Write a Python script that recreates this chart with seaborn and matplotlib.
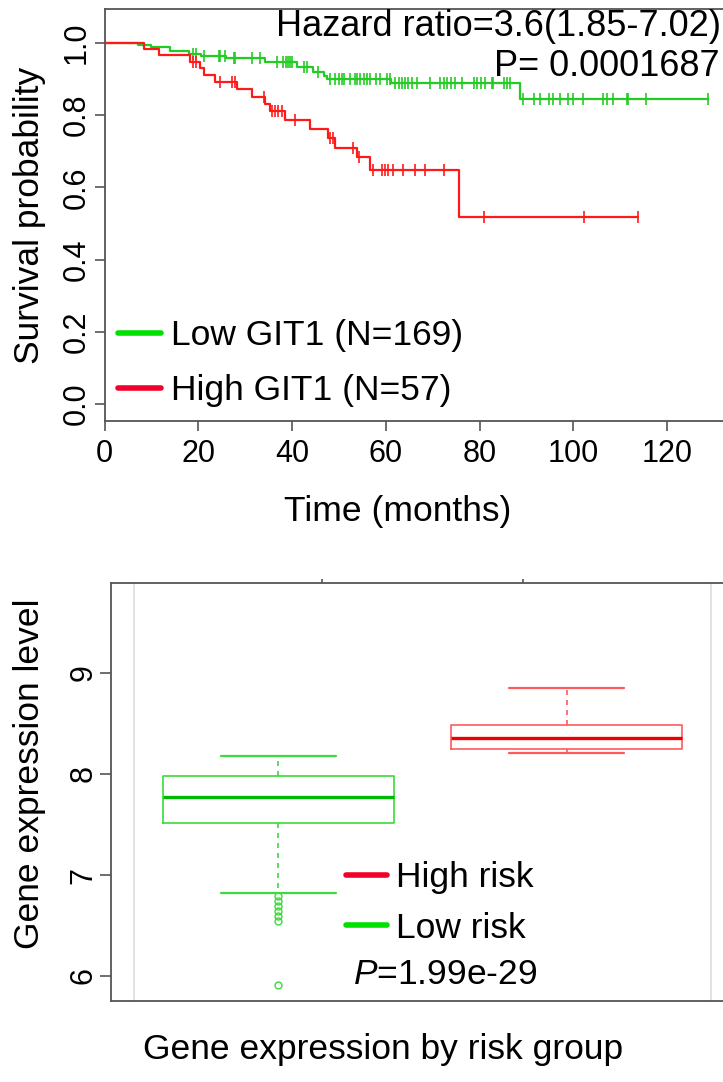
import numpy as np
import matplotlib
matplotlib.use("Agg")
import matplotlib.pyplot as plt
from matplotlib.lines import Line2D
import seaborn as sns

# ---------------- data ----------------
# Kaplan-Meier step functions (time in months, survival probability)
low_time = [0, 7.2, 10.0, 14.0, 17.9, 20.5, 26.0, 34.2, 41.0, 44.5, 46.7, 47.4, 61.0, 88.6, 128.8]
low_surv = [1.0, 0.994, 0.988, 0.979, 0.970, 0.964, 0.958, 0.946, 0.933, 0.921, 0.909, 0.899, 0.890, 0.844, 0.844]
low_censor = [18.9, 19.6, 21.1, 24.3, 24.6, 25.7, 27.5, 27.8, 31.4, 33.2, 36.7, 38.1, 38.8, 39.2,
              39.6, 39.9, 42.5, 43.2, 45.5, 48.1, 49.1, 49.9, 50.6, 51.1, 52.4, 53.4, 53.9, 54.5,
              55.3, 55.9, 56.6, 57.9, 58.7, 60.2, 60.9, 62.0, 62.7, 63.4, 64.1, 64.8, 65.5, 66.6,
              69.4, 71.5, 72.3, 73.0, 74.0, 74.8, 76.2, 78.7, 79.4, 80.4, 81.2, 82.6, 82.9, 85.1,
              85.8, 86.5, 89.3, 91.5, 92.9, 94.7, 95.7, 97.1, 98.9, 100.0, 102.1, 106.4, 107.1,
              108.5, 111.4, 111.7, 115.6, 128.8]

high_time = [0, 8.3, 11.5, 18.2, 20.4, 21.1, 23.5, 28.2, 31.4, 34.2, 35.3, 38.4, 43.8, 47.7, 49.2,
             53.8, 56.6, 75.5, 113.7]
high_surv = [1.0, 0.983, 0.966, 0.948, 0.930, 0.911, 0.893, 0.872, 0.851, 0.832, 0.812, 0.787,
             0.763, 0.738, 0.709, 0.685, 0.648, 0.518, 0.518]
high_censor = [18.8, 19.6, 24.6, 27.1, 27.8, 33.9, 35.8, 36.4, 37.0, 37.8, 40.6, 48.1, 48.8, 53.0,
               54.3, 57.3, 59.1, 59.8, 60.5, 61.6, 63.7, 66.2, 68.4, 72.3, 80.9, 102.3, 113.7]

km_labels = ["Low GIT1 (N=169)", "High GIT1 (N=57)"]
hazard_text = "Hazard ratio=3.6(1.85-7.02)"
p_text_km = "P= 0.0001687"
km_xticks = [0, 20, 40, 60, 80, 100, 120]
km_yticks = [0.0, 0.2, 0.4, 0.6, 0.8, 1.0]

# Box statistics per risk group
groups = ["Low risk", "High risk"]
box_q1 = [7.51, 8.245]
box_med = [7.775, 8.36]
box_q3 = [7.98, 8.485]
box_lo = [6.82, 8.205]
box_hi = [8.18, 8.85]
low_fliers = [6.79, 6.74, 6.69, 6.64, 6.59, 6.545, 5.91]
high_fliers = []
box_yticks = [6, 7, 8, 9]
p_text_box = "=1.99e-29"

# ---------------- style ----------------
sns.set_theme(style="white")
plt.rcParams["font.family"] = ["Liberation Sans", "DejaVu Sans"]
plt.rcParams["mathtext.fontset"] = "custom"
plt.rcParams["mathtext.it"] = "Liberation Sans:italic"
plt.rcParams["mathtext.rm"] = "Liberation Sans"
plt.rcParams["text.color"] = "black"
plt.rcParams["axes.labelcolor"] = "black"
plt.rcParams["xtick.color"] = "black"
plt.rcParams["ytick.color"] = "black"

GREEN = "#22CC22"
RED = "#FF1A1A"
SPINE = "#555555"
W, H = 723, 1082

fig = plt.figure(figsize=(W / 100, H / 100), dpi=100)
fig.patch.set_facecolor("white")


def fx(px):
    return px / W


def fy(py):
    return 1 - py / H


# ---------------- top: KM plot ----------------
ax1 = fig.add_axes([fx(104.6), fy(421), fx(735 - 104.6), (421 - 9) / H])
ax1.set_xlim(0, (735 - 104.6) / 4.6875)
ax1.set_ylim(-17 / 361, 1 + 34 / 361)

for t, s, c, col in [(low_time, low_surv, low_censor, GREEN), (high_time, high_surv, high_censor, RED)]:
    sns.lineplot(x=t, y=s, drawstyle="steps-post", color=col, lw=1.6, estimator=None,
                 sort=False, ax=ax1)
    t_arr = np.asarray(t)
    s_arr = np.asarray(s)
    idx = np.searchsorted(t_arr, c, side="right") - 1
    sns.scatterplot(x=c, y=s_arr[idx], marker="|", s=80, color=col, linewidth=1.2, ax=ax1,
                    zorder=3)

ax1.set_xticks(km_xticks)
ax1.set_yticks(km_yticks)
ax1.set_xticklabels([str(v) for v in km_xticks], fontsize=22)
ax1.set_yticklabels([f"{v:.1f}" for v in km_yticks], fontsize=22, rotation=90, va="center")
ax1.tick_params(axis="both", direction="out", length=7, width=1.2, color=SPINE,
                left=True, bottom=True, labelcolor="black")
ax1.tick_params(axis="x", pad=6)
ax1.tick_params(axis="y", pad=2)
for sp in ax1.spines.values():
    sp.set_color(SPINE)
    sp.set_linewidth(1.3)
ax1.set_xlabel("")
ax1.set_ylabel("")

leg1 = ax1.legend(handles=[Line2D([], [], color="#00E000", lw=4),
                           Line2D([], [], color="#F0002A", lw=4)],
                  labels=km_labels, loc="center left", frameon=False, fontsize=25.5,
                  handlelength=1.2, handletextpad=0.3, labelspacing=0.62, borderpad=0,
                  borderaxespad=0, bbox_to_anchor=(fx(118), fy(363)),
                  bbox_transform=fig.transFigure)

fig.text(fx(721), fy(27), hazard_text, ha="right", va="center", fontsize=26)
fig.text(fx(720), fy(67), p_text_km, ha="right", va="center", fontsize=26)
fig.text(fx(30), fy(215), "Survival probability", rotation=90, ha="center", va="center",
         fontsize=25.5)
fig.text(fx(398), fy(512), "Time (months)", ha="center", va="center", fontsize=25.5)

# ---------------- bottom: boxplot ----------------
ax2 = fig.add_axes([fx(111), fy(1001), fx(734 - 111), (1001 - 583) / H])

stats = []
for i, g in enumerate(groups):
    stats.append(dict(label=g, q1=box_q1[i], med=box_med[i], q3=box_q3[i],
                      whislo=box_lo[i], whishi=box_hi[i],
                      fliers=low_fliers if i == 0 else high_fliers))

box_cols = ["#3ADB3A", "#FF5A5A"]
med_cols = ["#00B800", "#EE0000"]
for i in range(2):
    ax2.bxp([stats[i]], positions=[i], widths=0.8, capwidths=0.4, showfliers=True,
            boxprops=dict(color=box_cols[i], lw=1.2),
            medianprops=dict(color=med_cols[i], lw=2.4),
            whiskerprops=dict(color=box_cols[i], lw=1.2, linestyle=(0, (3, 3))),
            capprops=dict(color=box_cols[i], lw=1.6),
            flierprops=dict(marker="o", markerfacecolor="none", markeredgecolor=box_cols[i],
                            markersize=5, markeredgewidth=1.0))

ax2.axvline(-0.5, color="#DDDDDD", lw=1.2, zorder=0)
ax2.axvline(1.5, color="#DDDDDD", lw=1.2, zorder=0)
ax2.set_xlim(-0.58, 1.58)
ax2.set_ylim(6 - 25 / 101, 9 + 90 / 101)
ax2.set_xticks([])
ax2.set_xticks([0.15, 0.85], minor=True)
ax2.tick_params(axis="x", which="minor", top=True, bottom=False, direction="out", length=3,
                width=1.2, color=SPINE, labeltop=False)
ax2.set_yticks(box_yticks)
ax2.set_yticklabels([str(v) for v in box_yticks], fontsize=22, rotation=90, va="center")
ax2.tick_params(axis="y", direction="out", length=8, width=1.2, color=SPINE, pad=1, left=True,
                labelcolor="black")
for sp in ax2.spines.values():
    sp.set_color(SPINE)
    sp.set_linewidth(1.3)

leg2 = ax2.legend(handles=[Line2D([], [], color="#F0002A", lw=4),
                           Line2D([], [], color="#00E000", lw=4)],
                  labels=["High risk", "Low risk"], loc="center left", frameon=False,
                  fontsize=25.5, handlelength=1.15, handletextpad=0.25, labelspacing=0.5,
                  borderpad=0, borderaxespad=0, bbox_to_anchor=(fx(346), fy(903)),
                  bbox_transform=fig.transFigure)

fig.text(fx(353), fy(975), r"$\mathit{P}$" + p_text_box, ha="left", va="center", fontsize=25.5)
fig.text(fx(30), fy(774), "Gene expression level", rotation=90, ha="center", va="center",
         fontsize=25.5)
fig.text(fx(383), fy(1050), "Gene expression by risk group", ha="center", va="center",
         fontsize=25.5)

fig.savefig("out.png", dpi=100, facecolor="white")
